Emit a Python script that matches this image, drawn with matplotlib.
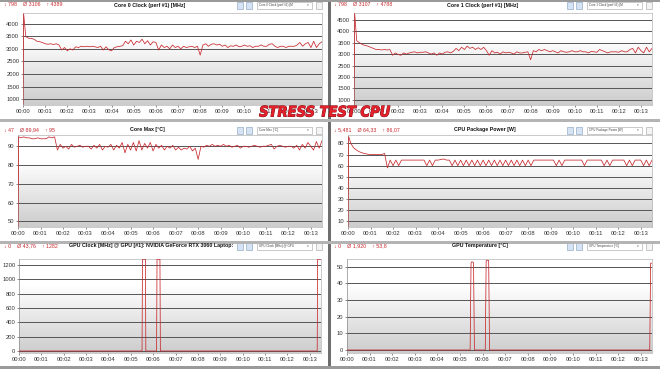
import numpy as np
import matplotlib.pyplot as plt
from matplotlib.patches import Rectangle
import matplotlib.patheffects as pe

plt.rcParams['font.family'] = ['Liberation Sans', 'DejaVu Sans']

W, H = 660, 369
STEP = 0.125          # minutes between plotted samples
START_T = [0.0, 0.03]  # the start-up jump of each CPU sensor
XMAX = 13.5

minutes = list(range(14))
xtick_labels = ['00:%02d' % m for m in minutes]

# Core 0 Clock [MHz]
core0_start = [798, 4389]
core0 = [3480, 3420, 3410, 3380, 3300, 3280, 3250, 3200,
         3180, 3200, 3170, 3200, 3150, 2950, 3050, 2920,
         3000, 2950, 3080, 3050, 3100, 3080, 3100, 3080,
         3100, 3080, 3050, 3100, 2950, 3080, 2960, 2920,
         3050, 3080, 3100, 3120, 3300, 3200, 3350, 3150,
         3300, 3250, 3380, 3200, 3320, 3150, 3280, 3250,
         2950, 3150, 3050, 3100, 3000, 3150, 3050, 3100,
         3000, 3100, 3050, 3080, 3100, 3050, 3100, 2750,
         3150, 3200, 3100, 3180, 3200, 3150, 3180, 3100,
         3150, 3050, 3120, 3100, 3150, 3080, 3100, 3150,
         3100, 3120, 3050, 3100, 3100, 3150, 3100, 3100,
         3180, 3200, 3100, 3050, 3100, 3100, 3050, 3100,
         3100, 3100, 3150, 3250, 3100, 3200, 3250, 3050,
         3300, 3050, 3200, 3280]

# Core 1 Clock [MHz]
core1_start = [798, 4788]
core1 = [3580, 3500, 3420, 3380, 3350, 3300, 3250, 3200,
         3200, 3180, 3200, 3180, 3200, 2950, 3050, 2980,
         2950, 3050, 3000, 3050, 3080, 3100, 3050, 3080,
         3080, 3100, 3050, 3000, 3050, 2950, 3050, 3000,
         3080, 3100, 3050, 3120, 3250, 3150, 3300, 3200,
         3350, 3250, 3300, 3200, 3280, 3200, 3300, 3150,
         2950, 3150, 3050, 3080, 3000, 3100, 3050, 3080,
         3050, 3000, 3100, 3050, 3050, 3080, 3100, 2750,
         3150, 3100, 3200, 3150, 3200, 3150, 3100, 3150,
         3100, 3050, 3150, 3100, 3080, 3100, 3150, 3100,
         3100, 3150, 3100, 3100, 3050, 3120, 3100, 3080,
         3200, 3150, 3100, 3050, 3100, 3100, 3100, 3080,
         3150, 3100, 3100, 3200, 3250, 3050, 3300, 3150,
         3050, 3300, 3100, 3250]

# Core Max [°C]
coremax_start = [47, 95]
coremax = [94.5, 95, 94.5, 94.5, 94, 94, 94.5, 94,
           94, 94, 95, 94.5, 95, 88, 91, 89,
           90, 88.5, 91, 89.5, 90, 90.5, 89.5, 90,
           90, 88.5, 90.5, 89, 91, 88, 90, 89.5,
           91, 88, 90.5, 89, 92, 86.5, 91, 88,
           92, 87.5, 93, 88, 91.5, 89, 92, 87.5,
           91, 89, 90.5, 88, 90, 89, 90.5, 88,
           89.5, 88, 89, 88.5, 90, 87.5, 89, 83,
           90, 89.5, 90.5, 90, 91, 90, 90.5, 90,
           91, 90, 90.5, 89.5, 90, 90.5, 89, 90,
           90, 89.5, 90, 90.5, 90, 89.5, 90, 90,
           90.5, 91, 88.5, 90, 90.5, 90, 89.5, 90,
           90, 89, 90.5, 88, 91, 89, 92, 90,
           88, 92.5, 89, 93]

# CPU Package Power [W]
power_start = [5.481, 86.07]
power = [80, 76, 74, 72.5, 71.5, 70.8, 70.3, 70,
         70, 70, 70, 70, 71, 58, 65, 60,
         65, 60, 65, 65, 65, 65, 65, 65,
         65, 65, 65, 60, 65, 60, 65, 65,
         65.5, 66, 65, 65, 60, 65, 60, 65,
         60, 65, 60, 65, 60, 65, 60, 65,
         60, 65, 60, 65, 60, 65, 60, 65,
         60, 65, 60, 65, 60, 65, 60, 65,
         60, 65, 65, 65, 65, 65, 65, 65,
         65, 60, 65, 60, 65, 65, 65, 65,
         65, 65, 65, 60, 65, 65, 65, 65,
         65, 65, 60, 65, 60, 65, 65, 65,
         65, 65, 60, 65, 60, 65, 65, 65,
         60, 65, 60, 65]

# GPU sensors only wake up three times
gpu_clk_t = [0, 5.5, 5.52, 5.65, 5.67, 6.15, 6.17, 6.3, 6.32, 13.33, 13.35, 13.5]
gpu_clk = [0, 0, 1282, 1282, 0, 0, 1282, 1282, 0, 0, 1282, 1282]
gpu_temp_t = [0, 5.45, 5.49, 5.52, 5.6, 5.64, 6.12, 6.16, 6.2, 6.27, 6.31, 13.4, 13.44, 13.5]
gpu_temp = [0, 0, 52.0, 52.8, 52.5, 0, 0, 53.4, 53.8, 53.6, 0, 0, 52, 52]


def series(start, vals):
    t = np.concatenate([START_T, STEP * np.arange(1, len(vals) + 1)])
    return t, np.concatenate([start, vals])


fig = plt.figure(figsize=(W / 100, H / 100), dpi=100)
fig.patch.set_facecolor('white')

shade = np.concatenate([np.ones(70), np.linspace(1, 0.8, 186)]).reshape(-1, 1)
RED = '#c8282d'


def fx(x):
    return x / W


def fy(y):
    return 1 - y / H


def panel(box, t, v, ylim, yticks, title, stats, combo, x0, hy, title_x):
    left, top, right, bottom = box
    ax = fig.add_axes([fx(left), fy(bottom), (right - left) / W, (bottom - top) / H])
    ax.imshow(shade, extent=[0, XMAX, ylim[0], ylim[1]], aspect='auto',
              cmap='gray', vmin=0, vmax=1, zorder=0, interpolation='bilinear')
    ax.plot(t, v, color=RED, lw=0.55, zorder=3)
    ax.set_xlim(0, XMAX)
    ax.set_ylim(*ylim)
    ax.set_yticks(yticks)
    ax.set_xticks(minutes)
    ax.set_xticklabels(xtick_labels)
    ax.grid(axis='y', color='#555555', lw=0.7, zorder=1)
    ax.set_axisbelow(True)
    ax.tick_params(labelsize=4.2, colors='#333333', length=1.5, width=0.4, pad=1.2)
    for s in ax.spines.values():
        s.set_color('#b5b5b5')
        s.set_linewidth(0.5)
    ax.spines['left'].set_color('#8a8a8a')

    # header line above the plot
    fig.text(fx(x0 + 4), fy(hy), stats, color=RED, fontsize=3.8, va='center')
    fig.text(fx(title_x), fy(hy), title, fontsize=3.8, fontweight='bold',
             ha='center', va='center', color='#111111')
    for ix in (x0 + 237, x0 + 246):
        fig.add_artist(Rectangle((fx(ix), fy(hy + 3.5)), 6 / W, 7 / H,
                                 facecolor='#d6e3f5', edgecolor='#7f9db9', lw=0.4))
    fig.add_artist(Rectangle((fx(x0 + 257), fy(hy + 3.5)), 55 / W, 7 / H,
                             facecolor='white', edgecolor='#a0a0a0', lw=0.4))
    fig.text(fx(x0 + 259), fy(hy), combo, fontsize=2.2, va='center', color='#444444')
    fig.text(fx(x0 + 308), fy(hy), '\u25be', fontsize=2.5, va='center', ha='center', color='#666666')
    fig.add_artist(Rectangle((fx(x0 + 316), fy(hy + 3.5)), 6 / W, 7 / H,
                             facecolor='#f4f4f4', edgecolor='#a0a0a0', lw=0.4))
    return ax


t0, v0 = series(core0_start, core0)
panel((23, 13, 322, 105), t0, v0, (770, 4420), range(1000, 4001, 500),
      'Core 0 Clock (perf #1) [MHz]', '\u2193 798    \u00d8 3106    \u2191 4389',
      'Core 0 Clock (perf #1) [M', 0, 5, 150)

t1, v1 = series(core1_start, core1)
panel((354, 13, 652, 105), t1, v1, (770, 4800), range(1000, 4501, 500),
      'Core 1 Clock (perf #1) [MHz]', '\u2193 798    \u00d8 3107    \u2191 4788',
      'Core 1 Clock (perf #1) [M', 330, 5, 483)

t2, v2 = series(coremax_start, coremax)
panel((18, 135, 322, 227), t2, v2, (47, 96), range(50, 91, 10),
      'Core Max [\u00b0C]', '\u2193 47    \u00d8 89,94    \u2191 95',
      'Core Max [\u00b0C]', 0, 130, 147)

t3, v3 = series(power_start, power)
panel((348, 135, 652, 227), t3, v3, (5, 87.5), range(10, 81, 10),
      'CPU Package Power [W]', '\u2193 5,481    \u00d8 64,33    \u2191 86,07',
      'CPU Package Power [W]', 330, 130, 485)

panel((19, 259, 321, 353), gpu_clk_t, gpu_clk, (-28, 1285), range(0, 1201, 200),
      'GPU Clock [MHz] @ GPU [#1]: NVIDIA GeForce RTX 3060 Laptop:',
      '\u2193 0    \u00d8 43,76    \u2191 1282',
      'GPU Clock [MHz] @ GPU', 0, 246, 151)

panel((347, 259, 652, 353), gpu_temp_t, gpu_temp, (-1.8, 54.5), range(0, 51, 10),
      'GPU Temperature [\u00b0C]', '\u2193 0    \u00d8 1,920    \u2191 53,8',
      'GPU Temperature [\u00b0C]', 330, 246, 480)

# window separators
fig.add_artist(Rectangle((fx(327.5), 0), 3 / W, 1, facecolor='#6e6e6e', lw=0))
for sy in (120, 242):
    fig.add_artist(Rectangle((0, fy(sy + 1.5)), 1, 3 / H, facecolor='#b4b4b4', lw=0))
fig.add_artist(Rectangle((0, fy(2)), 1, 2 / H, facecolor='#9a9a9a', lw=0))
fig.add_artist(Rectangle((0, 0), 1, 3 / H, facecolor='#9a9a9a', lw=0))

fig.text(fx(325), fy(112), 'STRESS TEST CPU', color='#e3222c', fontsize=10.5,
         fontweight='bold', style='italic', fontstretch='condensed',
         ha='center', va='center', zorder=10,
         family=['DejaVu Sans', 'Liberation Sans'],
         path_effects=[pe.withStroke(linewidth=0.7, foreground='#8a1018')])

fig.savefig('out.png', dpi=100)
